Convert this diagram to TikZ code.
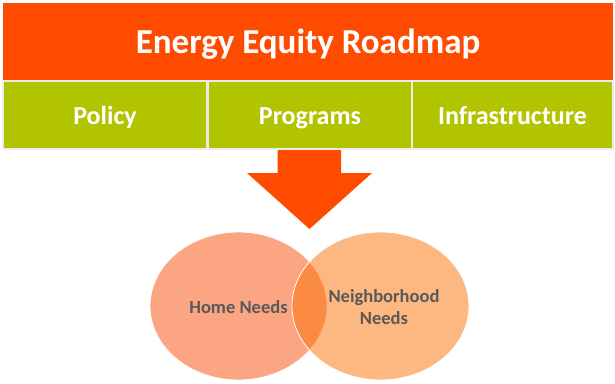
\documentclass[tikz,border=0pt]{standalone}
\usepackage{fontspec}
\setmainfont{Carlito}
\usepackage{tikz}
\usetikzlibrary{shapes.geometric,positioning}
\definecolor{roadorange}{HTML}{FF4B00}
\definecolor{roadgreen}{HTML}{B2C400}
\definecolor{homefill}{HTML}{FCA582}
\definecolor{hoodfill}{HTML}{FB6E00}
\definecolor{needtext}{HTML}{595959}

\begin{document}
\begin{tikzpicture}[x=1pt, y=-1pt, font=\bfseries,
    titlebox/.style={rectangle, fill=roadorange, minimum width=610pt, minimum height=77pt},
    titlelabel/.style={text=white, text height=24pt, text depth=7pt, font=\fontsize{35}{38}\selectfont\bfseries},
    pillar/.style={rectangle, fill=roadgreen, draw=white!85!gray, line width=1.2pt, minimum height=68pt},
    pillarlabel/.style={text=white, text height=18pt, text depth=5pt, font=\fontsize{26}{29}\selectfont\bfseries},
    need/.style={ellipse, draw=white, line width=0.8pt, minimum width=177pt, minimum height=148pt},
    needlabel/.style={text=needtext, align=center, font=\fontsize{18.5}{22}\selectfont\bfseries}]
	\useasboundingbox (0,0) rectangle (615,383);
	\node[titlebox] (T) at (308,41.5) {};
	\node[titlelabel] (TL) at ([yshift=-3pt]T.center) {Energy Equity Roadmap};
	\node[pillar, minimum width=204pt] (P1) at (105,115) {};
	\node[pillar, minimum width=204pt] (P2) at (310,115) {};
	\node[pillar, minimum width=201pt] (P3) at (512.5,115) {};
	\foreach \p/\txt in {P1/Policy, P2/Programs, P3/Infrastructure}
		\node[pillarlabel] at ([yshift=-2.5pt]\p.center) {\txt};

	% big arrow down to the needs
	\fill[roadorange] (277.5,150) -- (341,150) -- (341,173) -- (372,173) -- (309.5,229) -- (247,173) -- (277.5,173) -- cycle;

	\node[need, fill=homefill] (H) at (238.5,306) {};
	\node[need, fill=hoodfill, fill opacity=0.49] (N) at (380.5,306) {};
	\node[needlabel] (HL) at ([yshift=-1.5pt]H.center) {Home Needs};
	\node[needlabel] (NL) at ([xshift=3.5pt,yshift=-1.5pt]N.center) {Neighborhood\\Needs};
\end{tikzpicture}
\end{document}
